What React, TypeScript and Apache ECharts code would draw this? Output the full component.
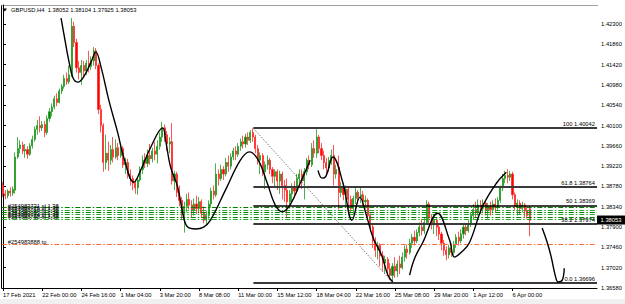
import React, { useEffect, useRef } from 'react';
import * as echarts from 'echarts';

const FONT = 'Liberation Sans, Arial, sans-serif';
const FS = 5.8;

const symbolName = 'GBPUSD,H4';
const headerOHLC = [1.38052, 1.38104, 1.37925, 1.38053];

const dateLabels = ['17 Feb 2021', '22 Feb 00:00', '24 Feb 16:00', '1 Mar 04:00', '3 Mar 20:00', '8 Mar 08:00', '11 Mar 00:00', '15 Mar 12:00', '18 Mar 04:00', '22 Mar 16:00', '25 Mar 08:00', '29 Mar 20:00', '1 Apr 12:00', '6 Apr 00:00'];
const labelEvery = 16;
const totalSlots = 243;

const priceTicks = [1.3658, 1.3702, 1.3746, 1.379, 1.3834, 1.3878, 1.3922, 1.3966, 1.401, 1.4054, 1.4098, 1.4142, 1.4186, 1.423];
const priceMin = 1.3658;
const priceMax = 1.42712;

// [open, close, low, high]
const candles: number[][] = [
[1.3880,1.3862,1.3855,1.3888],[1.3862,1.3858,1.3850,1.3870],[1.3858,1.3868,1.3852,1.3872],[1.3868,1.3864,1.3856,1.3876],[1.3864,1.3872,1.3858,1.3878],
[1.3870,1.3942,1.3862,1.3952],[1.3942,1.3960,1.3938,1.3985],[1.3960,1.3968,1.3950,1.3978],[1.3968,1.3955,1.3948,1.3975],[1.3955,1.3958,1.3940,1.3970],
[1.3958,1.3948,1.3938,1.3965],[1.3948,1.3966,1.3944,1.3972],[1.3966,1.3980,1.3960,1.3988],[1.3980,1.4002,1.3975,1.4008],[1.4002,1.4010,1.3990,1.4022],
[1.4010,1.4005,1.3995,1.4030],[1.4005,1.4012,1.3998,1.4020],[1.4012,1.3995,1.3985,1.4020],[1.3995,1.4025,1.3990,1.4032],[1.4025,1.4040,1.4018,1.4048],
[1.4040,1.4050,1.4030,1.4058],[1.4050,1.4068,1.4045,1.4075],[1.4068,1.4060,1.4052,1.4080],[1.4060,1.4085,1.4058,1.4090],[1.4085,1.4095,1.4078,1.4100],
[1.4095,1.4112,1.4090,1.4120],[1.4112,1.4105,1.4098,1.4125],[1.4105,1.4120,1.4100,1.4140],[1.4120,1.4225,1.4115,1.4243],[1.4225,1.4190,1.4180,1.4235],
[1.4190,1.4135,1.4125,1.4198],[1.4135,1.4125,1.4110,1.4150],[1.4125,1.4140,1.4098,1.4152],[1.4140,1.4128,1.4115,1.4150],[1.4128,1.4145,1.4120,1.4152],
[1.4145,1.4138,1.4125,1.4172],[1.4138,1.4150,1.4130,1.4160],[1.4150,1.4172,1.4140,1.4180],[1.4172,1.4140,1.4132,1.4178],[1.4140,1.4045,1.4035,1.4145],
[1.4045,1.4010,1.3995,1.4055],[1.4010,1.3930,1.3910,1.4015],[1.3930,1.3950,1.3915,1.3990],[1.3950,1.3935,1.3912,1.3975],[1.3935,1.3958,1.3925,1.3968],
[1.3958,1.3942,1.3930,1.3985],[1.3942,1.3962,1.3938,1.3980],[1.3962,1.3945,1.3935,1.3972],[1.3945,1.3960,1.3940,1.3972],[1.3960,1.3925,1.3918,1.3965],
[1.3925,1.3930,1.3905,1.3940],[1.3930,1.3905,1.3895,1.3938],[1.3905,1.3895,1.3880,1.3915],[1.3895,1.3885,1.3870,1.3902],[1.3885,1.3875,1.3862,1.3893],
[1.3875,1.3892,1.3860,1.3898],[1.3892,1.3915,1.3888,1.3922],[1.3915,1.3935,1.3905,1.3945],[1.3935,1.3928,1.3918,1.3950],[1.3928,1.3945,1.3920,1.3958],
[1.3945,1.3938,1.3925,1.3970],[1.3938,1.3955,1.3930,1.3962],[1.3955,1.3948,1.3935,1.3975],[1.3948,1.3965,1.3928,1.3978],[1.3965,1.3985,1.3958,1.3995],
[1.3985,1.4005,1.3975,1.4018],[1.4005,1.3990,1.3975,1.4012],[1.3990,1.3970,1.3955,1.3998],[1.3970,1.3975,1.3950,1.3985],[1.3975,1.3890,1.3882,1.4015],
[1.3890,1.3905,1.3870,1.3912],[1.3905,1.3865,1.3855,1.3910],[1.3865,1.3848,1.3835,1.3880],[1.3848,1.3820,1.3805,1.3855],[1.3820,1.3835,1.3778,1.3845],
[1.3835,1.3850,1.3822,1.3862],[1.3850,1.3838,1.3828,1.3865],[1.3838,1.3825,1.3812,1.3848],[1.3825,1.3840,1.3815,1.3852],[1.3840,1.3830,1.3818,1.3858],
[1.3830,1.3845,1.3820,1.3855],[1.3845,1.3820,1.3810,1.3850],[1.3820,1.3805,1.3798,1.3835],[1.3805,1.3815,1.3795,1.3825],[1.3815,1.3840,1.3808,1.3848],
[1.3840,1.3868,1.3832,1.3875],[1.3868,1.3860,1.3850,1.3880],[1.3860,1.3905,1.3855,1.3928],[1.3905,1.3895,1.3880,1.3915],[1.3895,1.3915,1.3890,1.3925],
[1.3915,1.3905,1.3892,1.3922],[1.3905,1.3930,1.3900,1.3940],[1.3930,1.3922,1.3910,1.3945],[1.3922,1.3942,1.3915,1.3950],[1.3942,1.3955,1.3935,1.3962],
[1.3955,1.3948,1.3935,1.3965],[1.3948,1.3965,1.3942,1.3972],[1.3965,1.3975,1.3955,1.3982],[1.3975,1.3970,1.3960,1.3988],[1.3970,1.3985,1.3962,1.3992],
[1.3985,1.3978,1.3968,1.3995],[1.3978,1.3995,1.3972,1.4000],[1.3995,1.3985,1.3975,1.4004],[1.3985,1.3960,1.3950,1.3990],[1.3960,1.3935,1.3925,1.3968],
[1.3935,1.3945,1.3905,1.3952],[1.3945,1.3910,1.3900,1.3950],[1.3910,1.3925,1.3872,1.3932],[1.3925,1.3935,1.3915,1.3945],[1.3935,1.3915,1.3905,1.3940],
[1.3915,1.3900,1.3885,1.3920],[1.3900,1.3910,1.3875,1.3915],[1.3910,1.3890,1.3870,1.3915],[1.3890,1.3905,1.3862,1.3912],[1.3905,1.3880,1.3850,1.3910],
[1.3880,1.3870,1.3845,1.3892],[1.3870,1.3845,1.3812,1.3895],[1.3845,1.3862,1.3830,1.3870],[1.3862,1.3875,1.3845,1.3885],[1.3875,1.3868,1.3855,1.3890],
[1.3868,1.3895,1.3862,1.3905],[1.3895,1.3905,1.3885,1.3915],[1.3905,1.3890,1.3872,1.3915],[1.3890,1.3910,1.3850,1.3918],[1.3910,1.3935,1.3902,1.3940],
[1.3935,1.3925,1.3915,1.3945],[1.3925,1.3960,1.3920,1.3972],[1.3960,1.3950,1.3940,1.3978],[1.3950,1.3985,1.3940,1.4002],[1.3985,1.3960,1.3950,1.3990],
[1.3960,1.3945,1.3935,1.3972],[1.3945,1.3930,1.3915,1.3955],[1.3930,1.3918,1.3905,1.3940],[1.3918,1.3935,1.3910,1.3942],[1.3935,1.3945,1.3925,1.3958],
[1.3945,1.3905,1.3880,1.3968],[1.3905,1.3915,1.3895,1.3925],[1.3920,1.3865,1.3828,1.3945],[1.3865,1.3878,1.3855,1.3888],[1.3878,1.3860,1.3848,1.3885],
[1.3860,1.3872,1.3835,1.3880],[1.3872,1.3850,1.3828,1.3878],[1.3850,1.3830,1.3820,1.3858],[1.3830,1.3852,1.3818,1.3858],[1.3852,1.3865,1.3840,1.3875],
[1.3865,1.3855,1.3840,1.3870],[1.3855,1.3860,1.3842,1.3878],[1.3860,1.3845,1.3835,1.3868],[1.3845,1.3848,1.3830,1.3858],[1.3848,1.3815,1.3805,1.3852],
[1.3815,1.3790,1.3780,1.3820],[1.3790,1.3760,1.3745,1.3795],[1.3760,1.3740,1.3725,1.3768],[1.3740,1.3750,1.3720,1.3758],[1.3750,1.3728,1.3705,1.3755],
[1.3728,1.3712,1.3695,1.3738],[1.3712,1.3720,1.3690,1.3728],[1.3720,1.3700,1.3685,1.3725],[1.3700,1.3685,1.3675,1.3712],[1.3685,1.3705,1.3670,1.3712],
[1.3705,1.3695,1.3680,1.3725],[1.3695,1.3710,1.3682,1.3718],[1.3710,1.3702,1.3688,1.3728],[1.3702,1.3725,1.3698,1.3735],[1.3725,1.3742,1.3715,1.3750],
[1.3742,1.3735,1.3722,1.3752],[1.3735,1.3755,1.3730,1.3765],[1.3755,1.3768,1.3745,1.3775],[1.3768,1.3760,1.3750,1.3782],[1.3760,1.3778,1.3755,1.3785],
[1.3778,1.3790,1.3770,1.3800],[1.3790,1.3782,1.3772,1.3808],[1.3782,1.3800,1.3775,1.3812],[1.3800,1.3840,1.3795,1.3848],[1.3840,1.3810,1.3795,1.3845],
[1.3810,1.3795,1.3785,1.3818],[1.3795,1.3805,1.3775,1.3812],[1.3805,1.3790,1.3770,1.3810],[1.3790,1.3775,1.3762,1.3795],[1.3775,1.3755,1.3740,1.3780],
[1.3755,1.3740,1.3728,1.3762],[1.3740,1.3730,1.3718,1.3748],[1.3730,1.3745,1.3722,1.3752],[1.3745,1.3735,1.3725,1.3755],[1.3735,1.3752,1.3730,1.3760],
[1.3752,1.3768,1.3745,1.3775],[1.3768,1.3760,1.3750,1.3780],[1.3760,1.3775,1.3755,1.3785],[1.3775,1.3790,1.3765,1.3795],[1.3790,1.3782,1.3772,1.3798],
[1.3782,1.3798,1.3778,1.3805],[1.3798,1.3815,1.3790,1.3822],[1.3815,1.3828,1.3805,1.3840],[1.3828,1.3822,1.3810,1.3845],[1.3822,1.3838,1.3815,1.3850],
[1.3838,1.3830,1.3818,1.3848],[1.3830,1.3842,1.3822,1.3850],[1.3842,1.3825,1.3815,1.3848],[1.3825,1.3835,1.3808,1.3842],[1.3835,1.3828,1.3815,1.3845],
[1.3828,1.3840,1.3820,1.3848],[1.3840,1.3832,1.3822,1.3852],[1.3832,1.3848,1.3825,1.3855],[1.3848,1.3875,1.3842,1.3880],[1.3875,1.3895,1.3868,1.3905],
[1.3895,1.3902,1.3885,1.3912],[1.3902,1.3898,1.3885,1.3915],[1.3898,1.3905,1.3890,1.3912],[1.3905,1.3860,1.3850,1.3910],[1.3860,1.3835,1.3825,1.3865],
[1.3835,1.3842,1.3815,1.3850],[1.3842,1.3830,1.3818,1.3848],[1.3830,1.3838,1.3822,1.3845],[1.3838,1.3825,1.3812,1.3842],[1.3825,1.3815,1.3808,1.3835],
[1.3830,1.3805,1.3770,1.3835]
];

const currentPrice = 1.38053;

// Fibonacci retracement
const fibStartBar = 102.2;
const fibEndBar = 159.1;
const fibHigh = 1.40042;
const fibLow = 1.36696;
const fibNames = ['100', '61.8', '50', '38.2', '0.0'];
const fibPrices = [1.40042, 1.38764, 1.38369, 1.37974, 1.36696];

// pending order lines (green) and take-profit line (orange)
const orderPrices = [1.3832, 1.3827, 1.3822, 1.3817, 1.3812, 1.3807];
const orderTags = ['#254983731 sl 1.38', '#254983725 sl 1.38', '#254983719 sl 1.38', '#254983733 sl 1.38', '#254983724 sl 1.38', '#254983738 sl 1.38'];
const tpPrice = 1.3752;
const tpTag = '#254983888 tp';

// hand-drawn curves [bar, price]
const curve1 = [[23.7,1.4243],[25.3,1.4195],[27.0,1.4147],[28.6,1.4113],[30.6,1.4104],[33.1,1.4117],[35.9,1.4147],[37.9,1.4169],[40.0,1.4137],[43.2,1.4065],[46.9,1.3993],[49.3,1.3941],[53.4,1.3887],[56.2,1.3913],[60.3,1.3963],[65.2,1.4005],[66.4,1.3978],[68.4,1.3920],[71.3,1.3877],[73.7,1.3812],[75.4,1.3790],[78.6,1.3786],[81.9,1.3790],[84.7,1.3805],[90.8,1.3870],[96.9,1.3935],[100.6,1.3953],[104.2,1.3935],[107.9,1.3885],[111.1,1.3838],[114.0,1.3823],[117.2,1.3838],[121.3,1.3885],[125.4,1.3935]];
const curve2 = [[128.6,1.3913],[130.3,1.3896],[131.8,1.3900],[134.7,1.3942],[138.8,1.3885],[142.5,1.3805],[145.7,1.3855],[148.2,1.3818],[151.0,1.3768],[154.7,1.3727],[157.1,1.3686],[159.1,1.3671]];
const curve3 = [[166.0,1.3686],[168.0,1.3722],[171.3,1.3756],[177.4,1.3820],[182.3,1.3762],[184.3,1.3725],[187.2,1.3736],[190.4,1.3756],[195.7,1.3834],[201.4,1.3885],[205.5,1.3909]];
const curve4 = [[220.1,1.3788],[222.2,1.3756],[223.8,1.3725],[225.4,1.3686],[226.6,1.3671],[228.3,1.3675],[229.1,1.3701]];

const App: React.FC = () => {
  const ref = useRef<HTMLDivElement>(null);
  useEffect(() => {
    if (!ref.current) return;
    const chart = echarts.init(ref.current, null, { renderer: 'svg' });
    const categories = Array.from({ length: totalSlots }, (_, i) => String(i));
    const leftEdge = -0.5;
    const rightEdge = totalSlots - 0.5;
    const curveSeries = [curve1, curve2, curve3, curve4].map((c) => ({
      type: 'line', xAxisIndex: 1, yAxisIndex: 0, data: c, smooth: 0.4, symbol: 'none', silent: true,
      lineStyle: { color: '#000', width: 1.4 }, z: 6,
    }));
    const fibLines = fibPrices.map((p, k) => [
      {
        coord: [fibStartBar, p],
        lineStyle: { color: k === 2 ? '#000' : '#3a3a3a', width: k === 2 ? 1.5 : 2, type: 'solid' },
        label: { show: true, position: 'insideEndTop', formatter: fibNames[k] + ' ' + p.toFixed(5), color: '#000', fontSize: FS, fontFamily: FONT, distance: [2, 1] },
      },
      { coord: [rightEdge, p] },
    ]);
    const orderLines: any[] = orderPrices.map((p, k) => [
      {
        coord: [leftEdge, p],
        lineStyle: { color: k % 2 ? '#2aa52a' : '#008000', width: 1, type: [5, 2, 1.5, 2] },
        label: { show: true, position: 'insideStartTop', formatter: orderTags[k], color: '#000', fontSize: FS, fontFamily: FONT, distance: [6, -1] },
      },
      { coord: [rightEdge, p] },
    ]);
    orderLines.push([
      {
        coord: [leftEdge, tpPrice],
        lineStyle: { color: '#ff6a3d', width: 1, type: [5, 2, 1.5, 2] },
        label: { show: true, position: 'insideStartTop', formatter: tpTag, color: '#000', fontSize: FS, fontFamily: FONT, distance: [6, 0] },
      },
      { coord: [rightEdge, tpPrice] },
    ]);
    const option: any = {
      animation: false,
      backgroundColor: '#fff',
      textStyle: { fontFamily: FONT },
      grid: { left: 0.5, right: 27, top: 5, bottom: 16, containLabel: false },
      xAxis: [
        {
          type: 'category', data: categories, boundaryGap: true,
          axisLine: { show: true, lineStyle: { color: '#000', width: 1 } },
          axisTick: { show: true, alignWithLabel: true, length: 3, interval: (i: number) => i % labelEvery === 0 && i / labelEvery < dateLabels.length, lineStyle: { color: '#000' } },
          axisLabel: {
            show: true, interval: (i: number) => i % labelEvery === 0 && i / labelEvery < dateLabels.length,
            formatter: (_v: string, i: number) => dateLabels[Math.round(i / labelEvery)] || '',
            align: 'left', fontSize: FS, color: '#000', margin: 4, fontFamily: FONT,
          },
          splitLine: { show: false },
        },
        { type: 'value', min: leftEdge, max: rightEdge, show: false },
      ],
      yAxis: {
        type: 'value', position: 'right', min: priceMin, max: priceMax, scale: true,
        axisLine: { show: true, lineStyle: { color: '#000', width: 1 } },
        axisTick: { show: true, length: 3, customValues: priceTicks, lineStyle: { color: '#000' } },
        axisLabel: { show: true, customValues: priceTicks, formatter: (v: number) => v.toFixed(5), fontSize: FS, color: '#000', margin: 4, fontFamily: FONT },
        splitLine: { show: false },
      },
      graphic: [
        { type: 'rect', shape: { x: 0, y: 299, width: 625, height: 5 }, style: { fill: '#f0f0f0' }, silent: true },
        { type: 'line', shape: { x1: 1.5, y1: 5.5, x2: 598, y2: 5.5 }, style: { stroke: '#a0a0a0', lineWidth: 1 }, silent: true },
        { type: 'line', shape: { x1: 1.5, y1: 5.5, x2: 1.5, y2: 288 }, style: { stroke: '#000', lineWidth: 1 }, silent: true },
        { type: 'polygon', shape: { points: [[2.5, 8.5], [7, 8.5], [4.75, 11.5]] }, style: { fill: '#000' }, silent: true },
        {
          type: 'text', x: 11, y: 10, silent: true,
          style: { text: symbolName + '  ' + headerOHLC.map((v) => v.toFixed(5)).join(' '), fill: '#000', font: `${FS}px ${FONT}`, verticalAlign: 'middle' },
        },
      ],
      series: [
        {
          type: 'candlestick', xAxisIndex: 0, yAxisIndex: 0, data: candles, barWidth: 1.6, silent: true,
          itemStyle: { color: '#008000', color0: '#ff0000', borderColor: '#1f9a1f', borderColor0: '#ff2a2a', borderWidth: 0.8 },
          z: 3,
        },
        {
          type: 'line', xAxisIndex: 1, yAxisIndex: 0, data: [], silent: true, z: 4,
          markLine: { symbol: 'none', silent: true, animation: false, data: orderLines },
        },
        {
          type: 'line', xAxisIndex: 1, yAxisIndex: 0, data: [], silent: true, z: 5,
          markLine: { symbol: 'none', silent: true, animation: false, data: fibLines },
        },
        {
          type: 'line', xAxisIndex: 1, yAxisIndex: 0, silent: true, symbol: 'none', z: 5,
          data: [[fibStartBar, fibHigh], [fibEndBar, fibLow]],
          lineStyle: { color: '#555', width: 0.8, type: [1.5, 1.5] },
        },
        ...curveSeries,
      ],
    };
    chart.setOption(option);
    // current price tag on the price scale, placed through the y axis
    const py = chart.convertToPixel({ yAxisIndex: 0 }, currentPrice) as number;
    const px = chart.convertToPixel({ xAxisIndex: 1 }, rightEdge) as number;
    chart.setOption({
      graphic: [
        { id: 'priceTagBox', type: 'rect', z: 100, silent: true, shape: { x: px, y: py - 4.5, width: 625 - px, height: 9 }, style: { fill: '#000' } },
        { id: 'priceTagText', type: 'text', z: 101, silent: true, x: px + 3.5, y: py, style: { text: currentPrice.toFixed(5), fill: '#fff', font: `${FS}px ${FONT}`, verticalAlign: 'middle' } },
      ],
    });
    return () => chart.dispose();
  }, []);
  return <div ref={ref} style={{ position: 'absolute', left: 0, top: 0, width: 625, height: 304 }} />;
};

export default App;
